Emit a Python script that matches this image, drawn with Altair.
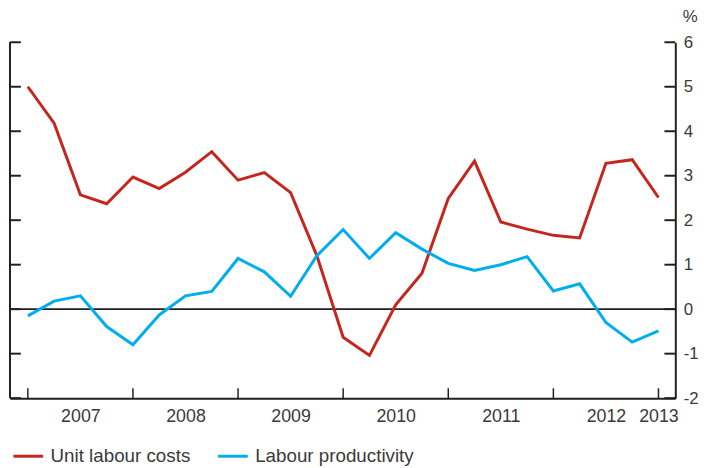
import altair as alt
import pandas as pd

# ---- data (quarterly, 2007Q1 .. 2013Q1) ----
quarter_index = list(range(25))
unit_labour_costs = [5.00, 4.18, 2.57, 2.37, 2.97, 2.71, 3.08, 3.54, 2.90, 3.07, 2.62, 1.20,
                     -0.63, -1.04, 0.10, 0.81, 2.49, 3.33, 1.96, 1.80, 1.66, 1.60, 3.28, 3.36, 2.51]
labour_productivity = [-0.15, 0.18, 0.30, -0.39, -0.80, -0.13, 0.30, 0.40, 1.14, 0.84, 0.29, 1.20,
                       1.79, 1.14, 1.72, 1.35, 1.03, 0.87, 1.00, 1.18, 0.41, 0.57, -0.30, -0.74, -0.49]
series_names = ["Unit labour costs", "Labour productivity"]
series_colors = ["#C4261D", "#00AEEF"]
year_labels = ["2007", "2008", "2009", "2010", "2011", "2012", "2013"]
year_label_pos = [2, 6, 10, 14, 18, 22, 24]
year_tick_pos = [0, 4, 8, 12, 16, 20, 24]
y_ticks = [-2, -1, 0, 1, 2, 3, 4, 5, 6]

df = pd.DataFrame({
    "t": quarter_index * 2,
    "v": unit_labour_costs + labour_productivity,
    "s": [series_names[0]] * 25 + [series_names[1]] * 25,
})

W, H = 673, 360
FONT = "Liberation Sans"
TXT = "#3a3a3a"
AX = "#231F20"

xscale = alt.Scale(domain=[-0.68, 24.64], nice=False, zero=False)
yscale = alt.Scale(domain=[-2, 6], nice=False, zero=False)

label_expr = " : ".join(f"datum.value == {p} ? '{l}'" for p, l in zip(year_label_pos, year_labels)) + " : ''"

x_axis = alt.Axis(values=year_label_pos, labelExpr=label_expr, ticks=False, tickSize=0,
                  labelPadding=10, labelFontSize=18, labelColor=TXT, labelFont=FONT,
                  domainColor=AX, domainWidth=2, grid=False, title=None,
                  labelOverlap=False, labelFlush=False)
y_axis = alt.Axis(orient="right", values=y_ticks, ticks=False, tickSize=0, labelPadding=8,
                  labelExpr="'' + datum.value",
                  labelAlign="left", labelFontSize=17, labelColor=TXT, labelFont=FONT,
                  domainColor=AX, domainWidth=2, grid=False,
                  title="%", titleAngle=0, titleAlign="left", titleBaseline="middle",
                  titleX=7, titleY=-26, titleFontSize=17, titleFont=FONT,
                  titleFontWeight="normal", titleColor=TXT)

zero = alt.Chart(pd.DataFrame({"y": [0]})).mark_rule(color=AX, strokeWidth=1.8).encode(
    y=alt.Y("y:Q", scale=yscale, axis=y_axis), x=alt.value(0), x2=alt.value(W))

lines = alt.Chart(df).mark_line(strokeWidth=3).encode(
    x=alt.X("t:Q", scale=xscale, axis=x_axis),
    y=alt.Y("v:Q", scale=yscale, axis=y_axis),
    color=alt.Color("s:N", scale=alt.Scale(domain=series_names, range=series_colors),
                    legend=alt.Legend(orient="none", legendX=2, legendY=402, direction="horizontal",
                                      title=None, symbolType="stroke", symbolSize=900,
                                      symbolStrokeWidth=3, labelFontSize=19, labelFont=FONT,
                                      labelColor=TXT, labelOffset=6, columnPadding=21, padding=0,
                                      labelLimit=0)),
)

left_line = alt.Chart(pd.DataFrame({"a": [0]})).mark_rule(color=AX, strokeWidth=2).encode(
    x=alt.value(0), y=alt.value(0), y2=alt.value(H))

left_ticks = alt.Chart(pd.DataFrame({"y": y_ticks})).mark_rule(color=AX, strokeWidth=2).encode(
    y=alt.Y("y:Q", scale=yscale, axis=y_axis), x=alt.value(0), x2=alt.value(11))

right_ticks = alt.Chart(pd.DataFrame({"y": y_ticks})).mark_rule(color=AX, strokeWidth=2).encode(
    y=alt.Y("y:Q", scale=yscale, axis=y_axis), x=alt.value(W - 11), x2=alt.value(W))

bottom_ticks = alt.Chart(pd.DataFrame({"x": year_tick_pos})).mark_rule(color=AX, strokeWidth=1.5).encode(
    x=alt.X("x:Q", scale=xscale, axis=x_axis), y=alt.value(H - 10), y2=alt.value(H))

chart = alt.layer(zero, lines, left_line, left_ticks, right_ticks, bottom_ticks).properties(
    width=W, height=H,
    autosize=alt.AutoSizeParams(type="none"),
    padding={"left": 2, "top": 32, "right": 26, "bottom": 68},
).configure_view(stroke=None)

chart.save("out.html", embed_options={"renderer": "svg", "actions": False})
